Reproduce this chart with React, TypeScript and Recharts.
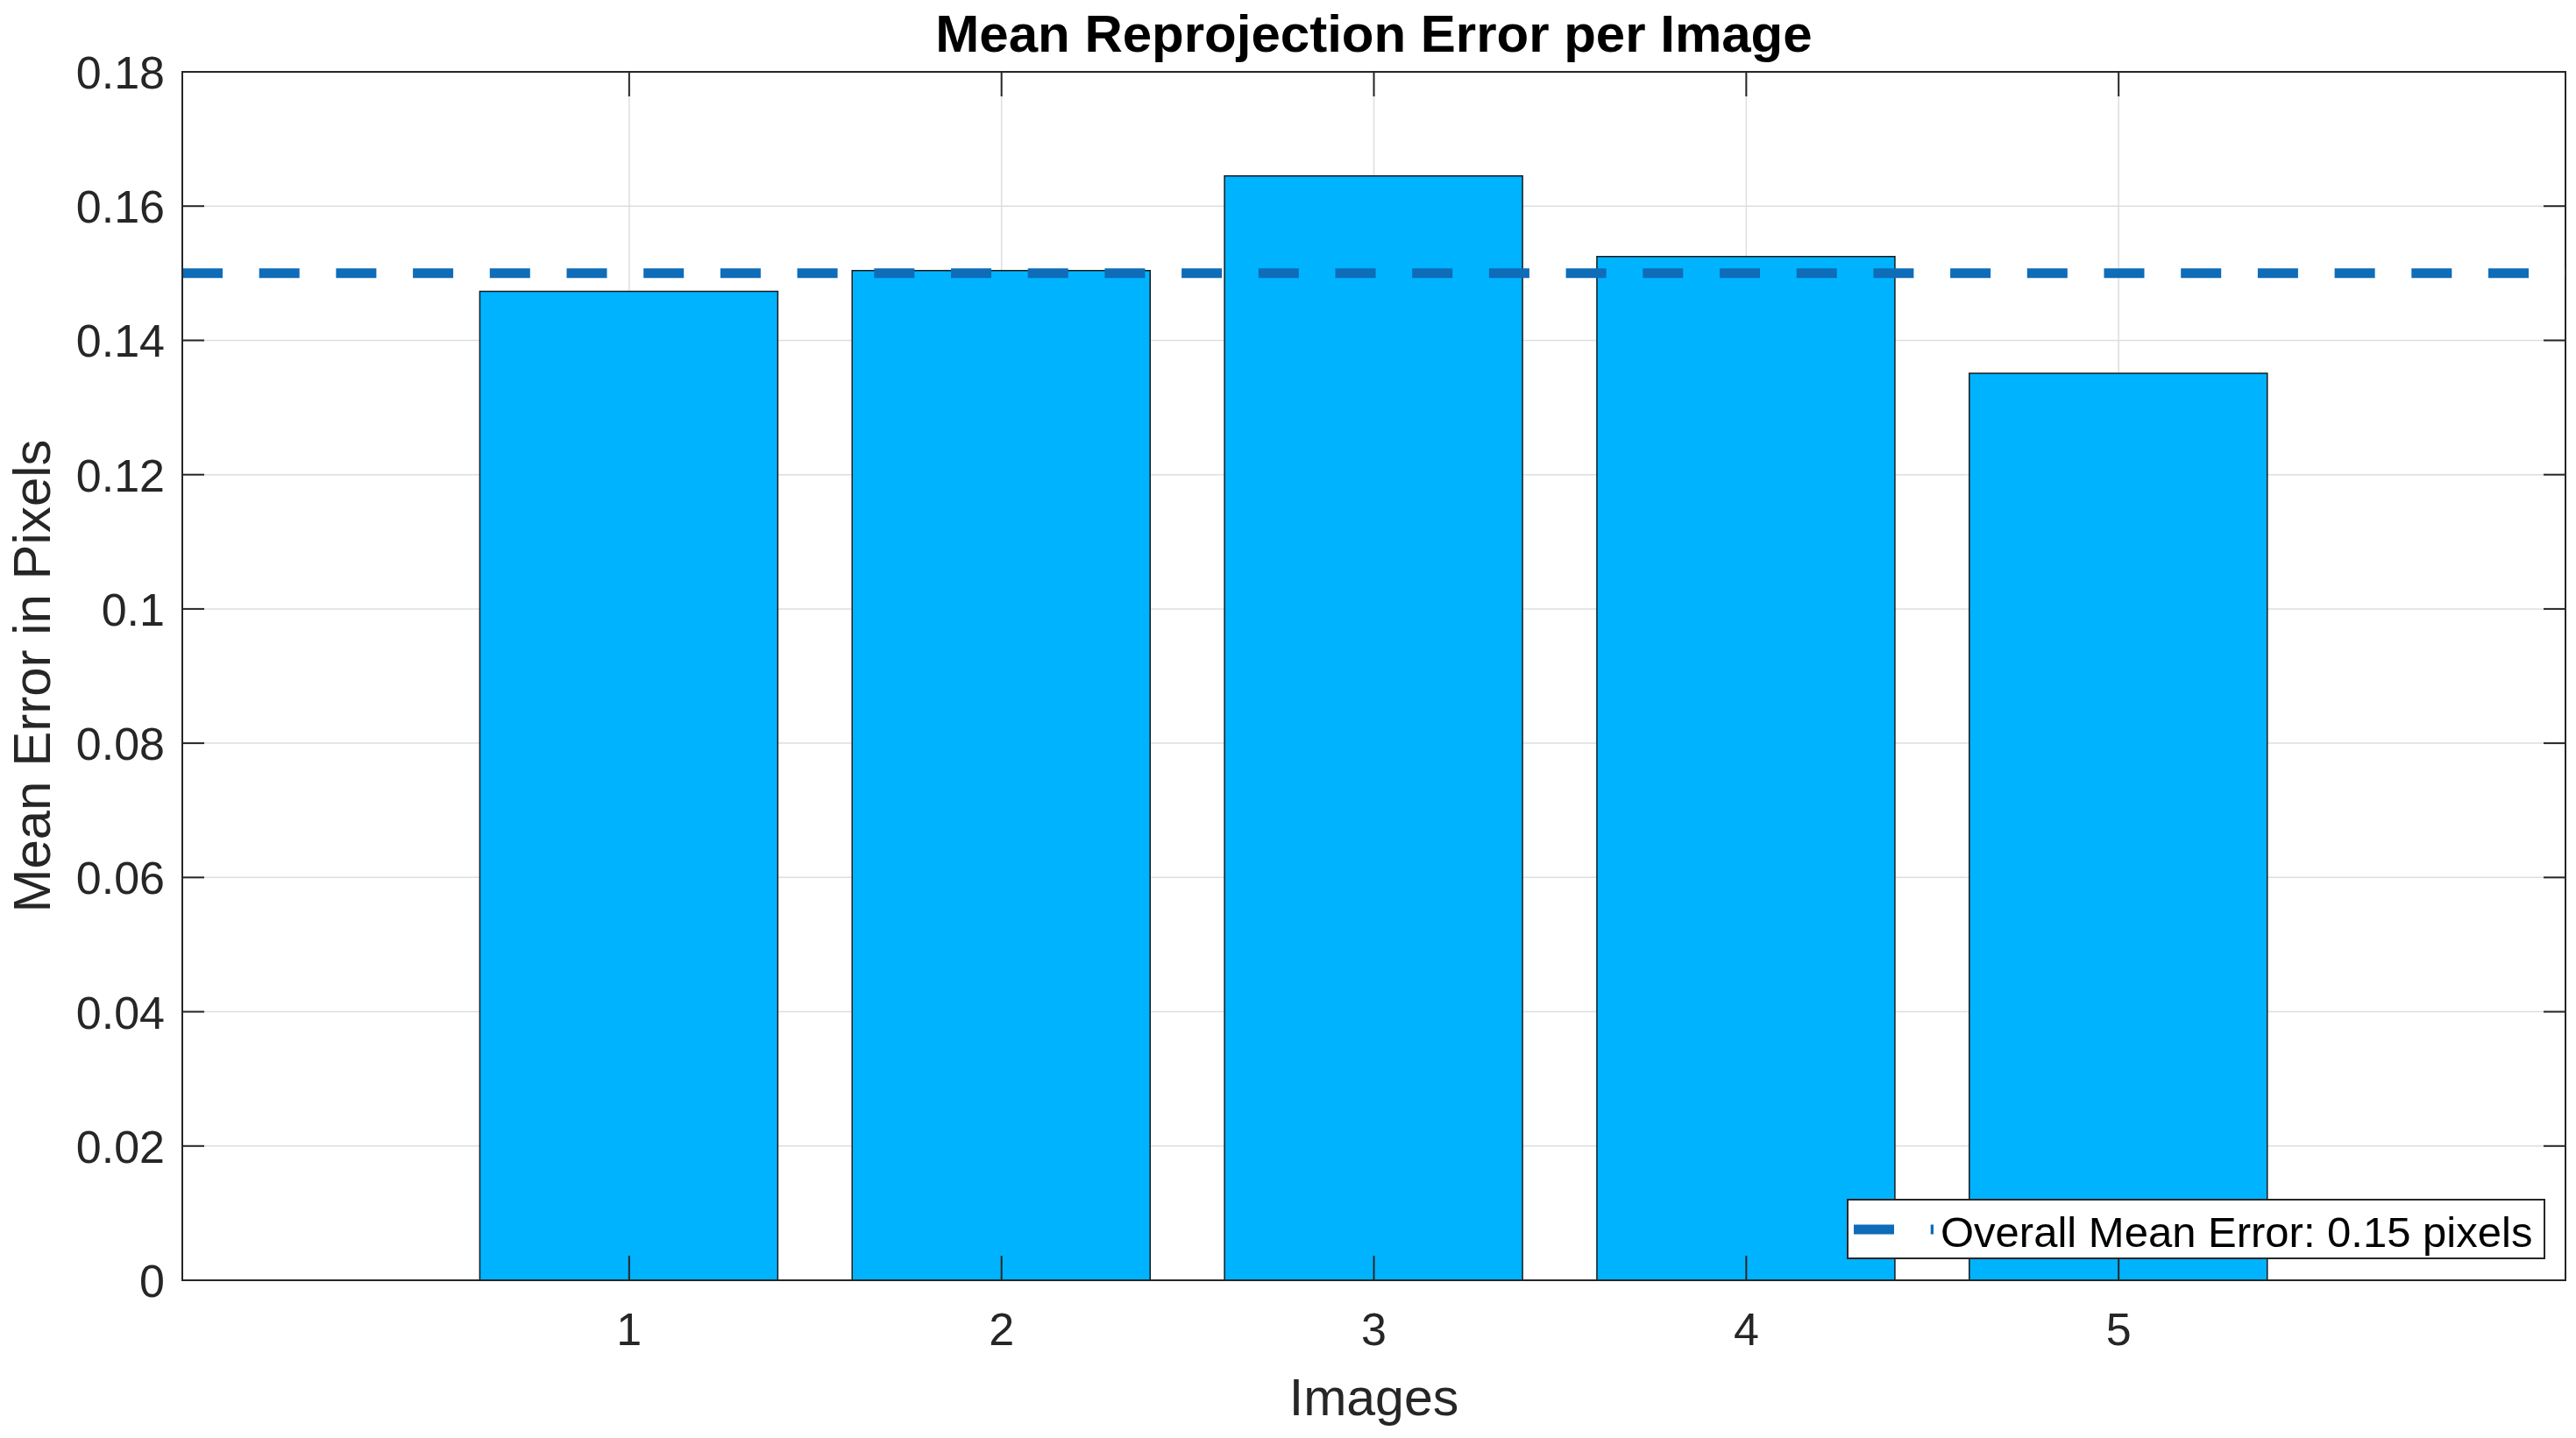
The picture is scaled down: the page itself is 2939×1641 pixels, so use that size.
import { BarChart, Bar, XAxis, YAxis, CartesianGrid, ReferenceLine, ReferenceArea, Legend } from 'recharts';

const images = [1, 2, 3, 4, 5];
const meanErrors = [0.1473, 0.1504, 0.1645, 0.1525, 0.1351];
const xTicks = [1, 2, 3, 4, 5];
const yTicks = [0, 0.02, 0.04, 0.06, 0.08, 0.1, 0.12, 0.14, 0.16, 0.18];
const xDomain = [-0.2, 6.2];
const yDomain = [0, 0.18];
const overallMeanError = 0.15;

const data = images.map((image, i) => ({ image, error: meanErrors[i] }));

const FONT = '"Liberation Sans", Arial, Helvetica, sans-serif';
const INK = '#262626';
const BAR_BLUE = '#00b3ff';
const MEAN_BLUE = '#0e6cb8';
const DASH = '46 41.7';

const W = 2939;
const H = 1641;
const MARGIN = { top: 82, right: 12, bottom: 0, left: 0 };
const Y_AXIS_W = 208;
const X_AXIS_H = 180;
const PLOT_W = W - MARGIN.left - MARGIN.right - Y_AXIS_W;
const PLOT_H = H - MARGIN.top - MARGIN.bottom - X_AXIS_H;

const fmt = (v: number) => String(Number(v.toFixed(2)));

// MATLAB-style ticks point into the box, on both opposite sides
function LeftTick({ x, y, payload }: any) {
  return (
    <g>
      <line x1={x} x2={x + 25} y1={y} y2={y} stroke={INK} strokeWidth={2} />
      <line x1={x + PLOT_W - 25} x2={x + PLOT_W} y1={y} y2={y} stroke={INK} strokeWidth={2} />
      <text x={x - 20} y={y + 19} textAnchor="end" fontSize={52} fill={INK} fontFamily={FONT}>
        {fmt(payload.value)}
      </text>
    </g>
  );
}

function BottomTick({ x, y, payload }: any) {
  return (
    <g>
      <line x1={x} x2={x} y1={y - 28} y2={y} stroke={INK} strokeWidth={2} />
      <line x1={x} x2={x} y1={y - PLOT_H} y2={y - PLOT_H + 28} stroke={INK} strokeWidth={2} />
      <text x={x} y={y + 74} textAnchor="middle" fontSize={52} fill={INK} fontFamily={FONT}>
        {fmt(payload.value)}
      </text>
    </g>
  );
}

const legendLabel = `Overall Mean Error: ${overallMeanError.toFixed(2)} pixels`;

function MeanLegend() {
  return (
    <svg width={797} height={69} style={{ display: 'block' }}>
      <rect x={1} y={1} width={795} height={67} fill="#fff" stroke={INK} strokeWidth={2} />
      <line x1={8} x2={99} y1={35} y2={35} stroke={MEAN_BLUE} strokeWidth={11} strokeDasharray={DASH} />
      <text x={107} y={55} fontSize={49} fill="#000" fontFamily={FONT}>
        {legendLabel}
      </text>
    </svg>
  );
}

export default function App() {
  return (
    <div style={{ position: 'absolute', left: 0, top: 0, width: W, height: H, background: '#fff' }}>
      <svg
        width={W}
        height={MARGIN.top}
        style={{ position: 'absolute', left: 0, top: 0, pointerEvents: 'none' }}
      >
        <text
          x={Y_AXIS_W + PLOT_W / 2}
          y={59}
          textAnchor="middle"
          fontSize={60}
          fontWeight="bold"
          fill="#000"
          fontFamily={FONT}
        >
          Mean Reprojection Error per Image
        </text>
      </svg>
      <BarChart width={W} height={H} data={data} margin={MARGIN} style={{ fontFamily: FONT }}>
        <CartesianGrid stroke="#dedede" strokeWidth={1.5} />
        <Bar
          dataKey="error"
          fill={BAR_BLUE}
          stroke="#1a1a1a"
          strokeWidth={1.5}
          barSize={340}
          isAnimationActive={false}
        />
        <ReferenceLine y={overallMeanError} stroke={MEAN_BLUE} strokeWidth={11} strokeDasharray={DASH} />
        <ReferenceArea
          x1={xDomain[0]}
          x2={xDomain[1]}
          y1={yDomain[0]}
          y2={yDomain[1]}
          fill="none"
          fillOpacity={0}
          stroke={INK}
          strokeWidth={2}
        />
        <XAxis
          dataKey="image"
          type="number"
          domain={xDomain}
          ticks={xTicks}
          allowDataOverflow
          height={X_AXIS_H}
          tickSize={0}
          tickMargin={0}
          tickLine={false}
          axisLine={{ stroke: INK, strokeWidth: 2 }}
          tick={<BottomTick />}
          label={(p: any) => {
            const vb = p.viewBox;
            return (
              <text x={vb.x + vb.width / 2} y={vb.y + 154} textAnchor="middle" fontSize={59} fill={INK} fontFamily={FONT}>
                Images
              </text>
            );
          }}
        />
        <YAxis
          type="number"
          domain={yDomain}
          ticks={yTicks}
          allowDataOverflow
          width={Y_AXIS_W}
          tickSize={0}
          tickMargin={0}
          tickLine={false}
          axisLine={{ stroke: INK, strokeWidth: 2 }}
          tick={<LeftTick />}
          label={(p: any) => {
            const vb = p.viewBox;
            const cx = vb.x + 57;
            const cy = vb.y + vb.height / 2;
            return (
              <text x={cx} y={cy} transform={`rotate(-90, ${cx}, ${cy})`} textAnchor="middle" fontSize={60} fill={INK} fontFamily={FONT}>
                Mean Error in Pixels
              </text>
            );
          }}
        />
        <Legend
          layout="vertical"
          align="center"
          verticalAlign="middle"
          wrapperStyle={{ left: 2107, top: 1368, width: 797, height: 69 }}
          content={() => <MeanLegend />}
        />
      </BarChart>
    </div>
  );
}
